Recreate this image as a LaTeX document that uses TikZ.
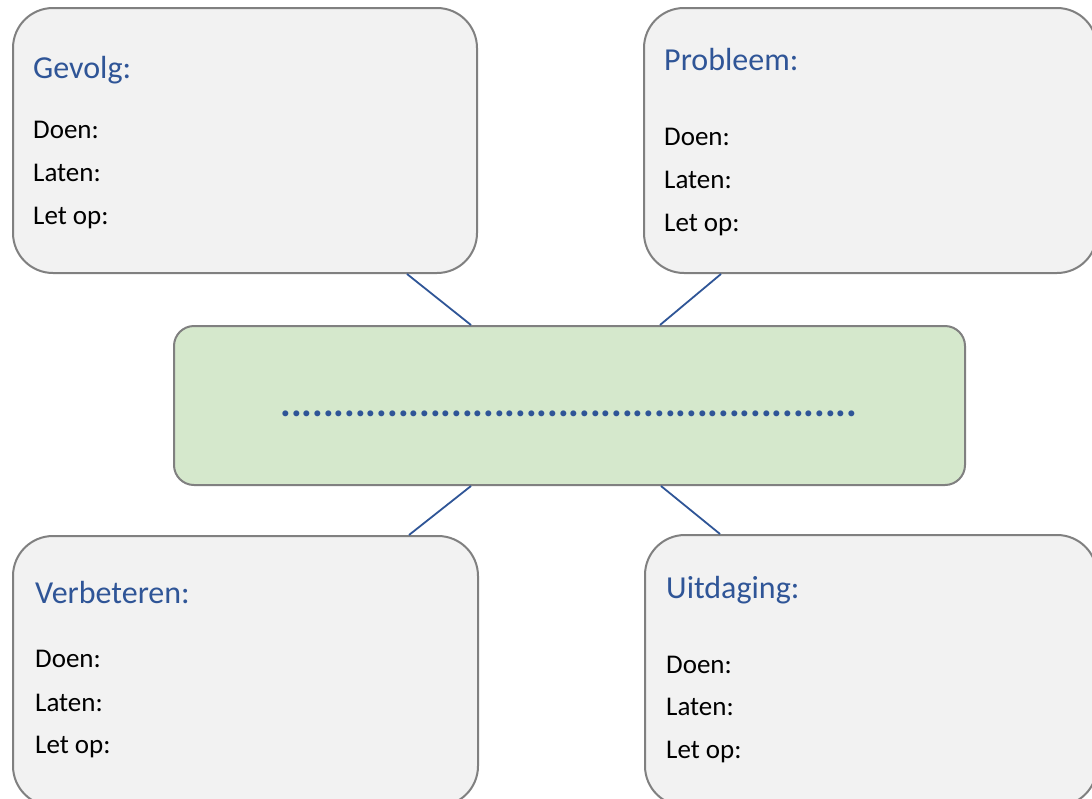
\documentclass[tikz,border=0pt]{standalone}
\usepackage{fontspec}
\setmainfont{Carlito}
\definecolor{boxfill}{HTML}{F2F2F2}
\definecolor{boxline}{HTML}{808080}
\definecolor{centerfill}{HTML}{D5E8CC}
\definecolor{headblue}{HTML}{2F5597}
\definecolor{linkblue}{HTML}{2F5597}
\begin{document}
\begin{tikzpicture}[x=1pt,y=-1pt,
  infobox/.style={draw=boxline, fill=boxfill, line width=2pt, rounded corners=40pt,
    rectangle, inner sep=0pt, anchor=center},
  centerbox/.style={draw=boxline, fill=centerfill, line width=2pt, rounded corners=20pt,
    rectangle, inner sep=0pt, anchor=center},
  heading/.style={anchor=base west, inner sep=0pt, text=headblue,
    font=\fontsize{32}{38}\selectfont},
  item/.style={anchor=base west, inner sep=0pt, text=black,
    font=\fontsize{27}{32}\selectfont},
  link/.style={draw=linkblue, line width=1.8pt}]
\useasboundingbox (0,0) rectangle (1092,798);
\fill[white] (0,0) rectangle (1092,798);

% four outer boxes and the central box
\node[infobox, minimum width=464pt, minimum height=265pt] (g) at (245,140.5) {};
\node[infobox, minimum width=453pt, minimum height=265pt] (p) at (870.5,140.5) {};
\node[centerbox, minimum width=791pt, minimum height=159pt] (c) at (569.5,405.5) {};
\node[infobox, minimum width=465pt, minimum height=270pt] (v) at (245.5,671) {};
\node[infobox, minimum width=452pt, minimum height=271pt] (u) at (871,670.5) {};

% connectors between the boxes
\draw[link] ([xshift=395pt]g.south west) -- ([xshift=298pt]c.north west);
\draw[link] ([xshift=78pt]p.south west) -- ([xshift=487pt]c.north west);
\draw[link] ([xshift=298pt]c.south west) -- ([xshift=397pt]v.north west);
\draw[link] ([xshift=488pt]c.south west) -- ([xshift=76pt]u.north west);

% dotted placeholder in the centre
\node[anchor=base, inner sep=0pt, text=headblue, font=\fontsize{40}{46}\selectfont\bfseries] (dots) at (569,416)
  {......................................................};

% Gevolg
\node[heading] (gh) at (33,78) {Gevolg:};
\node[item] (g1) at (33,138) {Doen:};
\node[item] (g2) at (33,181) {Laten:};
\node[item] (g3) at (33,224) {Let op:};

% Probleem
\node[heading] (ph) at (664,70) {Probleem:};
\node[item] (p1) at (664,145) {Doen:};
\node[item] (p2) at (664,188) {Laten:};
\node[item] (p3) at (664,231) {Let op:};

% Verbeteren
\node[heading] (vh) at (35,603) {Verbeteren:};
\node[item] (v1) at (35,667) {Doen:};
\node[item] (v2) at (35,711) {Laten:};
\node[item] (v3) at (35,753) {Let op:};

% Uitdaging
\node[heading] (uh) at (666,598) {Uitdaging:};
\node[item] (u1) at (666,673) {Doen:};
\node[item] (u2) at (666,715) {Laten:};
\node[item] (u3) at (666,758) {Let op:};
\end{tikzpicture}
\end{document}
